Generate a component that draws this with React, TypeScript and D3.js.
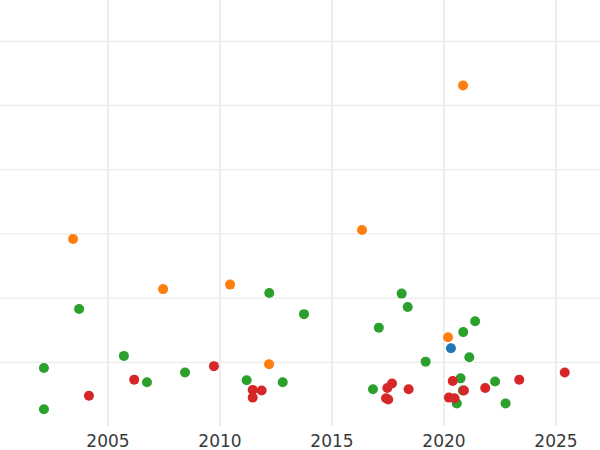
import React from "react";
import * as d3 from "d3";

// Each series: [year, value]
const blueYears = [2020.31];
const blueValues = [1.22];

const orangeYears = [2020.85, 2003.44, 2007.46, 2010.45, 2016.34, 2012.19, 2020.18];
const orangeValues = [5.31, 2.92, 2.14, 2.21, 3.06, 0.97, 1.39];

const greenYears = [
  2003.71, 2002.14, 2002.14, 2005.71, 2006.74, 2008.44, 2011.19, 2012.2, 2012.8,
  2013.75, 2017.09, 2018.11, 2018.38, 2016.83, 2019.18, 2020.86, 2021.39, 2021.13,
  2020.74, 2022.28, 2020.57, 2022.75, 2020.84,
];
const greenValues = [
  1.83, 0.91, 0.27, 1.1, 0.69, 0.84, 0.72, 2.08, 0.69,
  1.75, 1.54, 2.07, 1.86, 0.58, 1.01, 1.47, 1.64, 1.08,
  0.75, 0.7, 0.36, 0.36, 0.56,
];

const redYears = [
  2004.15, 2006.17, 2009.73, 2011.46, 2011.46, 2011.86, 2017.68, 2017.47, 2017.41,
  2017.51, 2018.42, 2020.39, 2020.22, 2020.47, 2020.89, 2021.84, 2023.36, 2025.39,
];
const redValues = [
  0.48, 0.73, 0.94, 0.57, 0.45, 0.56, 0.67, 0.6, 0.44,
  0.42, 0.58, 0.71, 0.45, 0.44, 0.56, 0.6, 0.73, 0.84,
];

const xTicks = [2005, 2010, 2015, 2020, 2025];
const yGrid = [1, 2, 3, 4, 5, 6];

const series = [
  { name: "blue", color: "#1f77b4", years: blueYears, values: blueValues },
  { name: "orange", color: "#ff7f0e", years: orangeYears, values: orangeValues },
  { name: "green", color: "#2ca02c", years: greenYears, values: greenValues },
  { name: "red", color: "#d62728", years: redYears, values: redValues },
];

export default function App() {
  const width = 600;
  const height = 450;
  const plotBottom = 426.5;
  const x = d3.scaleLinear().domain([2000.179, 2026.964]).range([0, width]);
  const y = d3.scaleLinear().domain([0, 6.643]).range([plotBottom, 0]);

  return (
    <svg
      width={width}
      height={height}
      style={{ position: "absolute", left: 0, top: 0, background: "#fff" }}
    >
      <g>
        {yGrid.map((v) => (
          <line
            key={"h" + v}
            x1={0}
            x2={width}
            y1={y(v)}
            y2={y(v)}
            stroke="#ebebeb"
            strokeWidth={1.3}
          />
        ))}
        {xTicks.map((t) => (
          <line
            key={"v" + t}
            x1={x(t)}
            x2={x(t)}
            y1={0}
            y2={plotBottom}
            stroke="#ebebeb"
            strokeWidth={1.8}
          />
        ))}
      </g>
      <g>
        {series.map((s) =>
          s.years.map((yr, i) => (
            <circle
              key={s.name + i}
              cx={x(yr)}
              cy={y(s.values[i])}
              r={5}
              fill={s.color}
            />
          ))
        )}
      </g>
      <g fontFamily="DejaVu Sans" fontSize={17} fill="#3a3a3a" textAnchor="middle">
        {xTicks.map((t) => (
          <text key={"t" + t} x={x(t)} y={446.5}>
            {t}
          </text>
        ))}
      </g>
    </svg>
  );
}
